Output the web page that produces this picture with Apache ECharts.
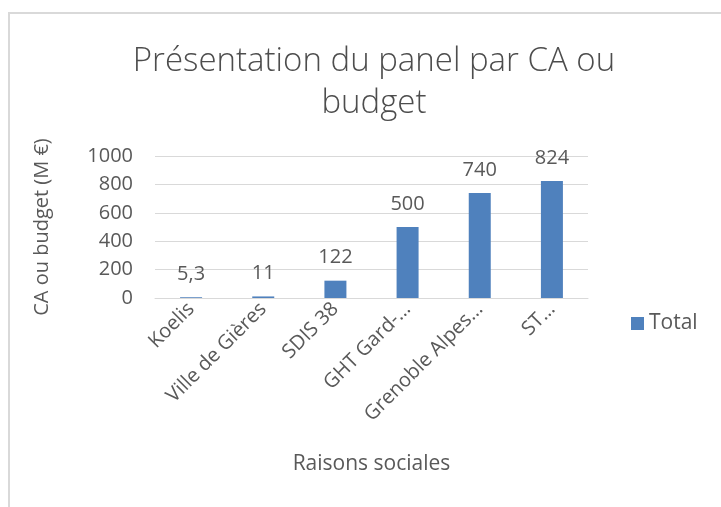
<!DOCTYPE html>
<html>
<head>
<meta charset="utf-8">
<script src="https://cdn.jsdelivr.net/npm/echarts@6/dist/echarts.min.js"></script>
<style>
  html, body { margin: 0; padding: 0; background: #fff; }
  #frame {
    position: absolute; left: 8px; top: 12px; width: 720px; height: 500px;
    border-left: 2px solid #d9d9d9; border-top: 2px solid #d9d9d9;
  }
  #chart { position: absolute; left: 0; top: 0; width: 721px; height: 507px; }
</style>
</head>
<body>
<div id="frame"></div>
<div id="chart"></div>
<script>
// données du graphique
const categories = ["Koelis", "Ville de Gières", "SDIS 38", "GHT Gard-…", "Grenoble Alpes…", "ST…"];
const totals = [5.3, 11, 122, 500, 740, 824];
const yTicks = [0, 200, 400, 600, 800, 1000];

const textColor = "#595959";
const fontFamily = "'Open Sans', sans-serif";

const chart = echarts.init(document.getElementById("chart"));
chart.setOption({
  textStyle: { fontFamily: fontFamily, color: textColor },
  title: {
    text: "Présentation du panel par CA ou\nbudget",
    left: 369,
    top: 36,
    textAlign: "center",
    textStyle: {
      fontFamily: fontFamily,
      fontWeight: 300,
      fontSize: 33,
      lineHeight: 42,
      color: "#4d4d4d"
    }
  },
  legend: {
    data: ["Total"],
    left: 631,
    top: 313,
    padding: 0,
    icon: "rect",
    itemWidth: 13,
    itemHeight: 13,
    itemGap: 6,
    textStyle: { fontSize: 21, color: textColor }
  },
  grid: { left: 155, right: 133, top: 156, bottom: 209 },
  xAxis: {
    type: "category",
    data: categories,
    name: "Raisons sociales",
    nameLocation: "middle",
    nameGap: 156,
    nameTextStyle: { fontSize: 21, color: textColor },
    axisLine: { lineStyle: { color: "#d9d9d9", width: 1 } },
    axisTick: { show: false },
    axisLabel: {
      rotate: 45,
      interval: 0,
      fontSize: 20,
      color: textColor,
      margin: 8
    }
  },
  yAxis: {
    type: "value",
    min: yTicks[0],
    max: yTicks[yTicks.length - 1],
    interval: yTicks[1] - yTicks[0],
    name: "CA ou budget (M €)",
    nameLocation: "middle",
    nameGap: 103,
    nameTextStyle: { fontSize: 20, color: textColor },
    axisLine: { show: false },
    axisTick: { show: false },
    axisLabel: {
      fontSize: 20,
      color: textColor,
      margin: 22,
      formatter: (v) => String(v)
    },
    splitLine: { lineStyle: { color: "#d9d9d9", width: 1 } }
  },
  series: [
    {
      name: "Total",
      type: "bar",
      data: totals,
      barWidth: 22,
      itemStyle: { color: "#4f81bd" },
      label: {
        show: true,
        position: "top",
        distance: 13,
        fontSize: 20,
        color: textColor,
        formatter: (p) => String(p.value).replace(".", ",")
      }
    }
  ],
  animation: false
});
</script>
</body>
</html>
